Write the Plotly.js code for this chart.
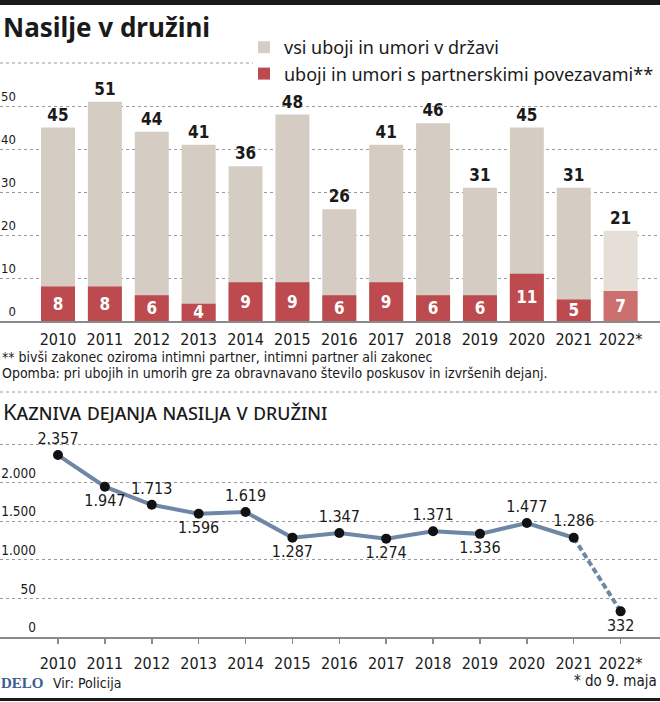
<!DOCTYPE html>
<html><head><meta charset="utf-8">
<script src="https://cdn.plot.ly/plotly-3.0.1.min.js"></script>
<style>html,body{margin:0;padding:0;background:#fff;}#chart{width:660px;height:702px;}</style>
</head><body><div id="chart"></div>
<script>
// ---- data ----
const years = ["2010","2011","2012","2013","2014","2015","2016","2017","2018","2019","2020","2021","2022*"];
const allKillings = [45,51,44,41,36,48,26,41,46,31,45,31,21];
const partnerKillings = [8,8,6,4,9,9,6,9,6,6,11,5,7];
const domesticOffences = [2357,1947,1713,1596,1619,1287,1347,1274,1371,1336,1477,1286,332];
const offenceLabelSide = ["top center","bottom center","top center","bottom center","top center","bottom center","top center","bottom center","top center","bottom center","top center","top center","bottom center"];
const barTickVals = [0,10,20,30,40,50];
const lineTickVals = [0,500,1000,1500,2000,2500];
const lineTickText = ["0","50","1.000","1.500","2.000",""];
const legendNames = ["vsi uboji in umori v državi","uboji in umori s partnerskimi povezavami**"];

// ---- helpers / style ----
const W = 660, H = 702;
const px = x => x / W;
const py = y => 1 - y / H;
const COND = "Liberation Sans Narrow, DejaVu Sans Condensed, Roboto, sans-serif";
const HUM = "Noto Sans, Open Sans, sans-serif";
const last = years.length - 1;
const beige = years.map((_, i) => i === last ? "#e5dfd7" : "#d5cdc3");
const red = years.map((_, i) => i === last ? "#cc6f6f" : "#bc4a4e");
const LINEC = "#6f87a6";

const traces = [
  {type:"bar", x:years, y:allKillings, name:legendNames[0], xaxis:"x", yaxis:"y",
   marker:{color:beige}, text:allKillings.map(String), textposition:"outside", textangle:0,
   textfont:{family:COND, size:17, color:"#1a1a1a", weight:"bold"}, cliponaxis:false, hoverinfo:"skip"},
  {type:"bar", x:years, y:partnerKillings, name:legendNames[1], xaxis:"x", yaxis:"y",
   marker:{color:red}, text:partnerKillings.map(String), textposition:"inside", insidetextanchor:"middle", textangle:0,
   constraintext:"none", textfont:{family:COND, size:17, color:"#ffffff", weight:"bold"}, cliponaxis:false, hoverinfo:"skip"},
  {type:"scatter", mode:"lines", x:years.slice(0, last), y:domesticOffences.slice(0, last), xaxis:"x2", yaxis:"y2",
   line:{color:LINEC, width:4}, showlegend:false, hoverinfo:"skip"},
  {type:"scatter", mode:"lines", x:years.slice(last-1), y:domesticOffences.slice(last-1), xaxis:"x2", yaxis:"y2",
   line:{color:LINEC, width:4, dash:"6px,3px"}, showlegend:false, hoverinfo:"skip"},
  {type:"scatter", mode:"markers+text", x:years, y:domesticOffences, xaxis:"x2", yaxis:"y2",
   marker:{color:"#111", size:10}, texttemplate:"%{y:,}", textposition:offenceLabelSide,
   textfont:{family:COND, size:16, color:"#1a1a1a"}, cliponaxis:false, showlegend:false, hoverinfo:"skip"}
];

const xr = [-1.237, 12.84];
const layout = {
  width:W, height:H, margin:{l:0,r:0,t:0,b:0}, paper_bgcolor:"#fff", plot_bgcolor:"rgba(0,0,0,0)",
  separators:",.", barmode:"overlay", bargap:0.275, showlegend:true,
  font:{family:COND, color:"#1a1a1a"},
  legend:{x:px(244), y:py(29), xanchor:"left", yanchor:"top", font:{family:HUM, size:18, color:"#1a1a1a"},
          bgcolor:"rgba(0,0,0,0)", tracegroupgap:0, itemclick:false},
  xaxis:{domain:[0,1], type:"category", range:xr, showgrid:false, showline:true, linecolor:"#8a8a8a", linewidth:1.5,
         ticks:"", tickangle:0, tickfont:{family:COND, size:16, color:"#1a1a1a"}, ticklabelstandoff:3, anchor:"y", fixedrange:true},
  yaxis:{domain:[(H-321)/H, (H-84.5)/H], range:[0,55], tickvals:barTickVals, showgrid:true, gridcolor:"#9a9a9a",
         griddash:"dot", gridwidth:1, zeroline:false, showline:false, ticks:"", ticklabelposition:"outside top",
         ticklabelstandoff:-17, tickfont:{family:COND, size:13, color:"#1a1a1a"}, anchor:"x", fixedrange:true},
  xaxis2:{domain:[0,1], type:"category", range:xr, showgrid:false, showline:true, linecolor:"#8a8a8a", linewidth:1.5,
          ticks:"outside", ticklen:5, tickcolor:"#8a8a8a", tickwidth:1.5, tickangle:0,
          tickfont:{family:COND, size:16, color:"#1a1a1a"}, ticklabelstandoff:6, anchor:"y2", fixedrange:true},
  yaxis2:{domain:[(H-637)/H, (H-436.3)/H], range:[0,2600], tickvals:lineTickVals, ticktext:lineTickText,
          showgrid:true, gridcolor:"#9a9a9a", griddash:"dot", gridwidth:1, zeroline:false, showline:false, ticks:"",
          ticklabelposition:"outside top", ticklabelstandoff:-37, tickfont:{family:COND, size:13.5, color:"#1a1a1a"},
          anchor:"x2", fixedrange:true},
  shapes:[
    {type:"rect", xref:"paper", yref:"paper", x0:0, x1:1, y0:py(5), y1:1, fillcolor:"#1a1a1a", line:{width:0}},
    {type:"rect", xref:"paper", yref:"paper", x0:0, x1:1, y0:py(701), y1:py(698), fillcolor:"#1a1a1a", line:{width:0}},
    {type:"line", xref:"paper", yref:"paper", x0:0, x1:px(253), y0:py(63), y1:py(63), line:{color:"#9a9a9a", width:1, dash:"dot"}},
    {type:"line", xref:"paper", yref:"paper", x0:0, x1:1, y0:py(392), y1:py(392), line:{color:"#9a9a9a", width:1, dash:"dot"}}
  ],
  annotations:[
    {text:"<b>Nasilje v družini</b>", xref:"paper", yref:"paper", x:px(1), y:py(27), xanchor:"left", yanchor:"middle",
     showarrow:false, font:{family:HUM, size:26, color:"#1a1a1a"}},
    {text:"** bivši zakonec oziroma intimni partner, intimni partner ali zakonec", xref:"paper", yref:"paper",
     x:px(0), y:py(357), xanchor:"left", yanchor:"middle", showarrow:false, font:{family:COND, size:14, color:"#1a1a1a"}},
    {text:"Opomba: pri ubojih in umorih gre za obravnavano število poskusov in izvršenih dejanj.", xref:"paper", yref:"paper",
     x:px(0), y:py(373), xanchor:"left", yanchor:"middle", showarrow:false, font:{family:COND, size:14, color:"#1a1a1a"}},
    {text:"Kazniva dejanja nasilja v družini", xref:"paper", yref:"paper", x:px(1), y:py(411), xanchor:"left", yanchor:"middle",
     showarrow:false, font:{family:HUM, size:22, color:"#1a1a1a", variant:"small-caps"}},
    {text:"<b>DELO</b>", xref:"paper", yref:"paper", x:px(-1), y:py(683), xanchor:"left", yanchor:"middle",
     showarrow:false, font:{family:"Liberation Serif, DejaVu Serif, serif", size:15, color:"#3c5d8e"}},
    {text:"Vir: Policija", xref:"paper", yref:"paper", x:px(51), y:py(683), xanchor:"left", yanchor:"middle",
     showarrow:false, font:{family:COND, size:14, color:"#1a1a1a"}},
    {text:"* do 9. maja", xref:"paper", yref:"paper", x:px(659), y:py(681), xanchor:"right", yanchor:"middle",
     showarrow:false, font:{family:COND, size:15, color:"#1a1a1a"}}
  ]
};
Plotly.newPlot("chart", traces, layout, {staticPlot:true, displayModeBar:false});
</script></body></html>
